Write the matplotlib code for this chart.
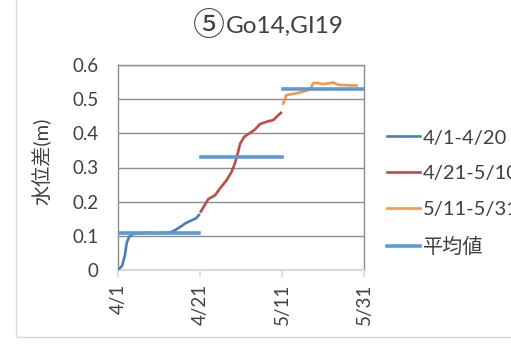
import matplotlib
matplotlib.use("Agg")
import matplotlib.pyplot as plt
import numpy as np
from matplotlib.patches import Rectangle

plt.rcParams['font.family'] = ['Lato', 'DejaVu Sans', 'Noto Sans CJK JP']

title_mark = "⑤"
title = "Go14,GI19"
ylabel = "水位差(m)"
tick_days = [0, 20, 40, 60]
tick_labels = ["4/1", "4/21", "5/11", "5/31"]

# 4/1-4/20 (days since 4/1, water level difference in m)
d1 = [0.0, 1.0, 1.7, 2.1, 2.7, 3.5, 5.0, 7.0, 9.0, 11.0, 12.4, 13.7, 15.3, 16.5, 17.7, 19.0, 19.75]
v1 = [0.0, 0.012, 0.044, 0.078, 0.097, 0.105, 0.107, 0.109, 0.108, 0.108, 0.109, 0.115, 0.127, 0.137, 0.144, 0.151, 0.161]

# 4/21-5/10
d2 = [20.2, 22.0, 23.7, 24.9, 26.5, 27.7, 28.5, 29.2, 29.8, 30.8, 32.2, 33.4, 34.6, 36.3, 37.9, 39.1, 39.75]
v2 = [0.171, 0.207, 0.219, 0.239, 0.263, 0.287, 0.312, 0.341, 0.370, 0.390, 0.401, 0.411, 0.427, 0.434, 0.439, 0.453, 0.460]

# 5/11-5/31
d3 = [40.3, 41.1, 42.4, 44.0, 45.6, 46.8, 47.6, 48.5, 49.7, 51.3, 52.5, 53.7, 55.4, 57.0, 58.2]
v3 = [0.487, 0.512, 0.515, 0.518, 0.524, 0.528, 0.546, 0.548, 0.544, 0.546, 0.549, 0.542, 0.541, 0.540, 0.540]

# period means (平均値)
mean_days = [0.0, 19.8, np.nan, 20.2, 39.9, np.nan, 40.3, 60.0]
mean_vals = [0.107, 0.107, np.nan, 0.332, 0.332, np.nan, 0.531, 0.531]

fig = plt.figure(figsize=(5.11, 3.48), dpi=100)
fig.patch.set_facecolor('white')

# chart frame
fig.patches.append(Rectangle((16 / 511, (348 - 337) / 348), 1.0, 1.0,
                             transform=fig.transFigure, fill=False,
                             edgecolor='#d9d9d9', linewidth=1.0, zorder=0))

ax = fig.add_axes([118 / 511, (348 - 270) / 348, (364 - 118) / 511, (270 - 65) / 348])

ax.plot(d1, v1, color='#4a7ebb', lw=1.9, label="4/1-4/20", zorder=3)
ax.plot(d2, v2, color='#be4b48', lw=1.9, label="4/21-5/10", zorder=3)
ax.plot(d3, v3, color='#f79646', lw=1.9, label="5/11-5/31", zorder=3)
ax.plot(mean_days, mean_vals, color='#5b9bd5', lw=2.6, label="平均値", zorder=4)

ax.set_xlim(0, 60)
ax.set_ylim(0, 0.6)
ax.set_yticks(np.arange(0, 0.61, 0.1))
ax.set_yticklabels(["0", "0.1", "0.2", "0.3", "0.4", "0.5", "0.6"], fontsize=13.5, color='#404040')
ax.set_xticks(tick_days)
ax.set_xticklabels(tick_labels, rotation=90, fontsize=13.5, color='#404040')

ax.grid(axis='y', color='#8c8c8c', lw=1.0)
ax.set_axisbelow(True)
for s in ['left', 'right', 'top']:
    ax.spines[s].set_color('#8c8c8c')
    ax.spines[s].set_linewidth(1.0)
ax.spines['bottom'].set_color('#d9d9d9')
ax.spines['bottom'].set_linewidth(1.5)
ax.tick_params(axis='y', length=0, pad=14)
ax.tick_params(axis='x', direction='out', length=5, color='#d9d9d9', width=1.2, pad=5)

ax.set_ylabel(ylabel, fontsize=14.5, color='#404040', labelpad=6)
ax.yaxis.set_label_coords(-0.27, 0.53)

# title: enclosed numeral drawn larger, followed by the station names
fig.text(225 / 511, 1 - 26 / 348, title_mark, ha='right', va='center',
         fontsize=23, color='#404040', family=['Noto Sans CJK JP', 'DejaVu Sans'])
fig.text(226 / 511, 1 - 26 / 348, title, ha='left', va='center', fontsize=17.5, color='#404040')

leg = ax.legend(loc='upper left', bbox_to_anchor=(1.062, 0.725), frameon=False,
                fontsize=14.5, handlelength=1.6, handletextpad=0.15, labelspacing=0.93,
                borderaxespad=0)
for t in leg.get_texts():
    t.set_color('#404040')

fig.savefig("out.png", dpi=100, facecolor='white')
